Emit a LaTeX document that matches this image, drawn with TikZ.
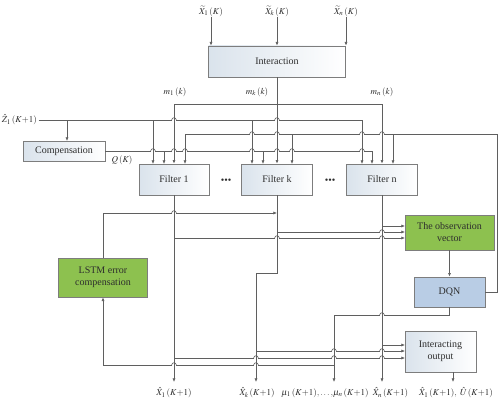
\documentclass[tikz,border=0pt]{standalone}
\usepackage{mathptmx}
\usepackage{fontspec}
\setmainfont{Liberation Serif}
\usetikzlibrary{arrows.meta,calc}
\definecolor{wirec}{RGB}{95,95,95}
\definecolor{boxc}{RGB}{125,125,125}
\definecolor{txt}{RGB}{45,45,45}
\definecolor{grn}{RGB}{141,193,79}
\definecolor{blu}{RGB}{185,205,229}
\definecolor{gradc}{RGB}{218,227,236}
\tikzset{
  wire/.style={draw=wirec, line width=0.6pt},
  arr/.style={wire, -{Latex[length=3.6pt,width=3pt]}},
  box/.style={draw=boxc, line width=0.8pt, inner sep=0pt, text=txt, align=center,
    font=\fontsize{10}{12}\selectfont},
  gbox/.style={box, left color=gradc, right color=white},
  greenbox/.style={box, fill=grn},
  bluebox/.style={box, fill=blu},
  lab/.style={inner sep=0pt, text=txt, font=\fontsize{9}{11}\selectfont},
}
\newcommand\kpo{(K{+}1)}
\newcommand\hopat[1]{%
  \fill[white] ($#1+(-2.3,-0.8)$) rectangle ($#1+(2.3,0.8)$);
  \draw[wire] ($#1+(0,-1.2)$) -- ($#1+(0,1.2)$);
  \draw[wire] ($#1+(-2.3,0)$) .. controls ($#1+(-2.3,-3)$) and ($#1+(2.3,-3)$) .. ($#1+(2.3,0)$);}
\begin{document}
\begin{tikzpicture}[x=1pt,y=-1pt]
\useasboundingbox (0,0) rectangle (500,404);
% boxes
\node[gbox, minimum width=137pt, minimum height=31pt] (inter) at (277,61.5) {Interaction};
\node[gbox, minimum width=82pt, minimum height=20pt] (comp) at (64,151) {Compensation};
\node[gbox, minimum width=70pt, minimum height=31pt] (f1) at (174,179.5) {Filter 1};
\node[gbox, minimum width=71pt, minimum height=31pt] (fk) at (277,179.5) {Filter k};
\node[gbox, minimum width=71pt, minimum height=31pt] (fn) at (382,179.5) {Filter n};
\node[greenbox, minimum width=89pt, minimum height=35pt] (obs) at (449.5,232.5) {The observation\\vector};
\node[bluebox, minimum width=71pt, minimum height=30pt] (dqn) at (449.5,292) {DQN};
\node[gbox, minimum width=71pt, minimum height=41pt] (io) at (440.5,351.5) {Interacting\\output};
\node[greenbox, minimum width=89pt, minimum height=39pt] (lstm) at (103,277.5) {LSTM error\\compensation};
\node[lab, font=\fontsize{10}{12}\selectfont] (dots1) at (226,181) {•••};
\node[lab, font=\fontsize{10}{12}\selectfont] (dots2) at (330,181) {•••};
% top labels
\node[lab] (tx1) at (211,11) {$\widetilde{X}_1\,(K)$};
\node[lab] (txk) at (277,11) {$\widetilde{X}_k\,(K)$};
\node[lab] (txn) at (346,11) {$\widetilde{X}_n\,(K)$};
\draw[arr] (tx1.south) -- (inter.north -| tx1.south);
\draw[arr] (txk.south) -- (inter.north -| txk.south);
\draw[arr] (txn.south) -- (inter.north -| txn.south);
\node[lab] (m1) at (175,92) {$m_1\,(k)$};
\node[lab] (mk) at (257,92) {$m_k\,(k)$};
\node[lab] (mn) at (382,92) {$m_n\,(k)$};
% interaction to filters
\coordinate (bus) at (277,104);
\draw[wire] (inter.south) -- (bus);
\draw[arr] (bus) -- (fk.north);
\draw[arr] (bus) -| (f1.north);
\draw[arr] (bus) -| (fn.north);
% Z line
\node[lab, anchor=east] (zl) at (37,120) {$\hat{Z}_1\,\kpo$};
\coordinate (zr) at (362,120);
\draw[wire] ([xshift=1.5pt]zl.east) -- (zr);
\draw[arr] (67,120) -- (67,141);
\draw[arr] (153,120) -- (153,164);
\draw[arr] (252,120) -- (252,164);
\draw[arr] (zr) -- (362,164);
% Q line
\node[lab] (ql) at (122,160) {$Q\,(K)$};
\draw[wire] (comp.east) -- (372,151);
\draw[arr] (372,151) -- (372,164);
\draw[arr] (164,151) -- (164,164);
\draw[arr] (263,151) -- (263,164);
% feedback from DQN
\draw[arr] (dqn.east) -- (497,292) -- (497,134) -| (185,164);
\draw[arr] (292,134) -- (292,164);
\draw[arr] (393,134) -- (393,164);
% filter outputs
\draw[arr] (f1.south) -- (174,382);
\draw[arr] (fk.south) -- (277,273) -| (256,382);
\draw[arr] (fn.south) -- (382,382);
\draw[arr] (lstm.north) |- (277,213);
\draw[arr] (382,226) -- (405,226);
\draw[arr] (277,232) -- (405,232);
\draw[arr] (174,238) -- (405,238);
\draw[arr] (obs.south) -- (dqn.north);
\draw[arr] (dqn.south) -- (449.5,315) -| (334,382);
\draw[arr] (382,345) -- (405,345);
\draw[arr] (256,351) -- (405,351);
\draw[arr] (174,358) -- (405,358);
\draw[arr] (334,365) -| (lstm.south);
\draw[arr] (453,372) -- (453,382);
% bottom labels
\node[lab] (o1) at (174,393) {$\hat{X}_1\,\kpo$};
\node[lab] (ok) at (257,393) {$\hat{X}_k\,\kpo$};
\node[lab] (omu) at (325,393) {$\mu_1\,\kpo{,}\ldots{,}\mu_n\,\kpo$};
\node[lab] (on) at (390.5,393) {$\hat{X}_n\,\kpo$};
\node[lab] (oio) at (456,393) {$\hat{X}_1\,\kpo,\ \hat{U}\,\kpo$};
% line hops
\hopat{(174,120)}\hopat{(277,120)}
\hopat{(252,134)}\hopat{(277,134)}\hopat{(362,134)}\hopat{(382,134)}
\hopat{(153,151)}\hopat{(174,151)}\hopat{(185,151)}\hopat{(252,151)}\hopat{(277,151)}\hopat{(292,151)}\hopat{(362,151)}
\hopat{(174,213)}
\hopat{(382,232)}
\hopat{(277,238)}\hopat{(382,238)}
\hopat{(382,315)}
\hopat{(334,351)}\hopat{(382,351)}
\hopat{(256,358)}\hopat{(334,358)}\hopat{(382,358)}
\hopat{(256,365)}\hopat{(174,365)}
\end{tikzpicture}
\end{document}
